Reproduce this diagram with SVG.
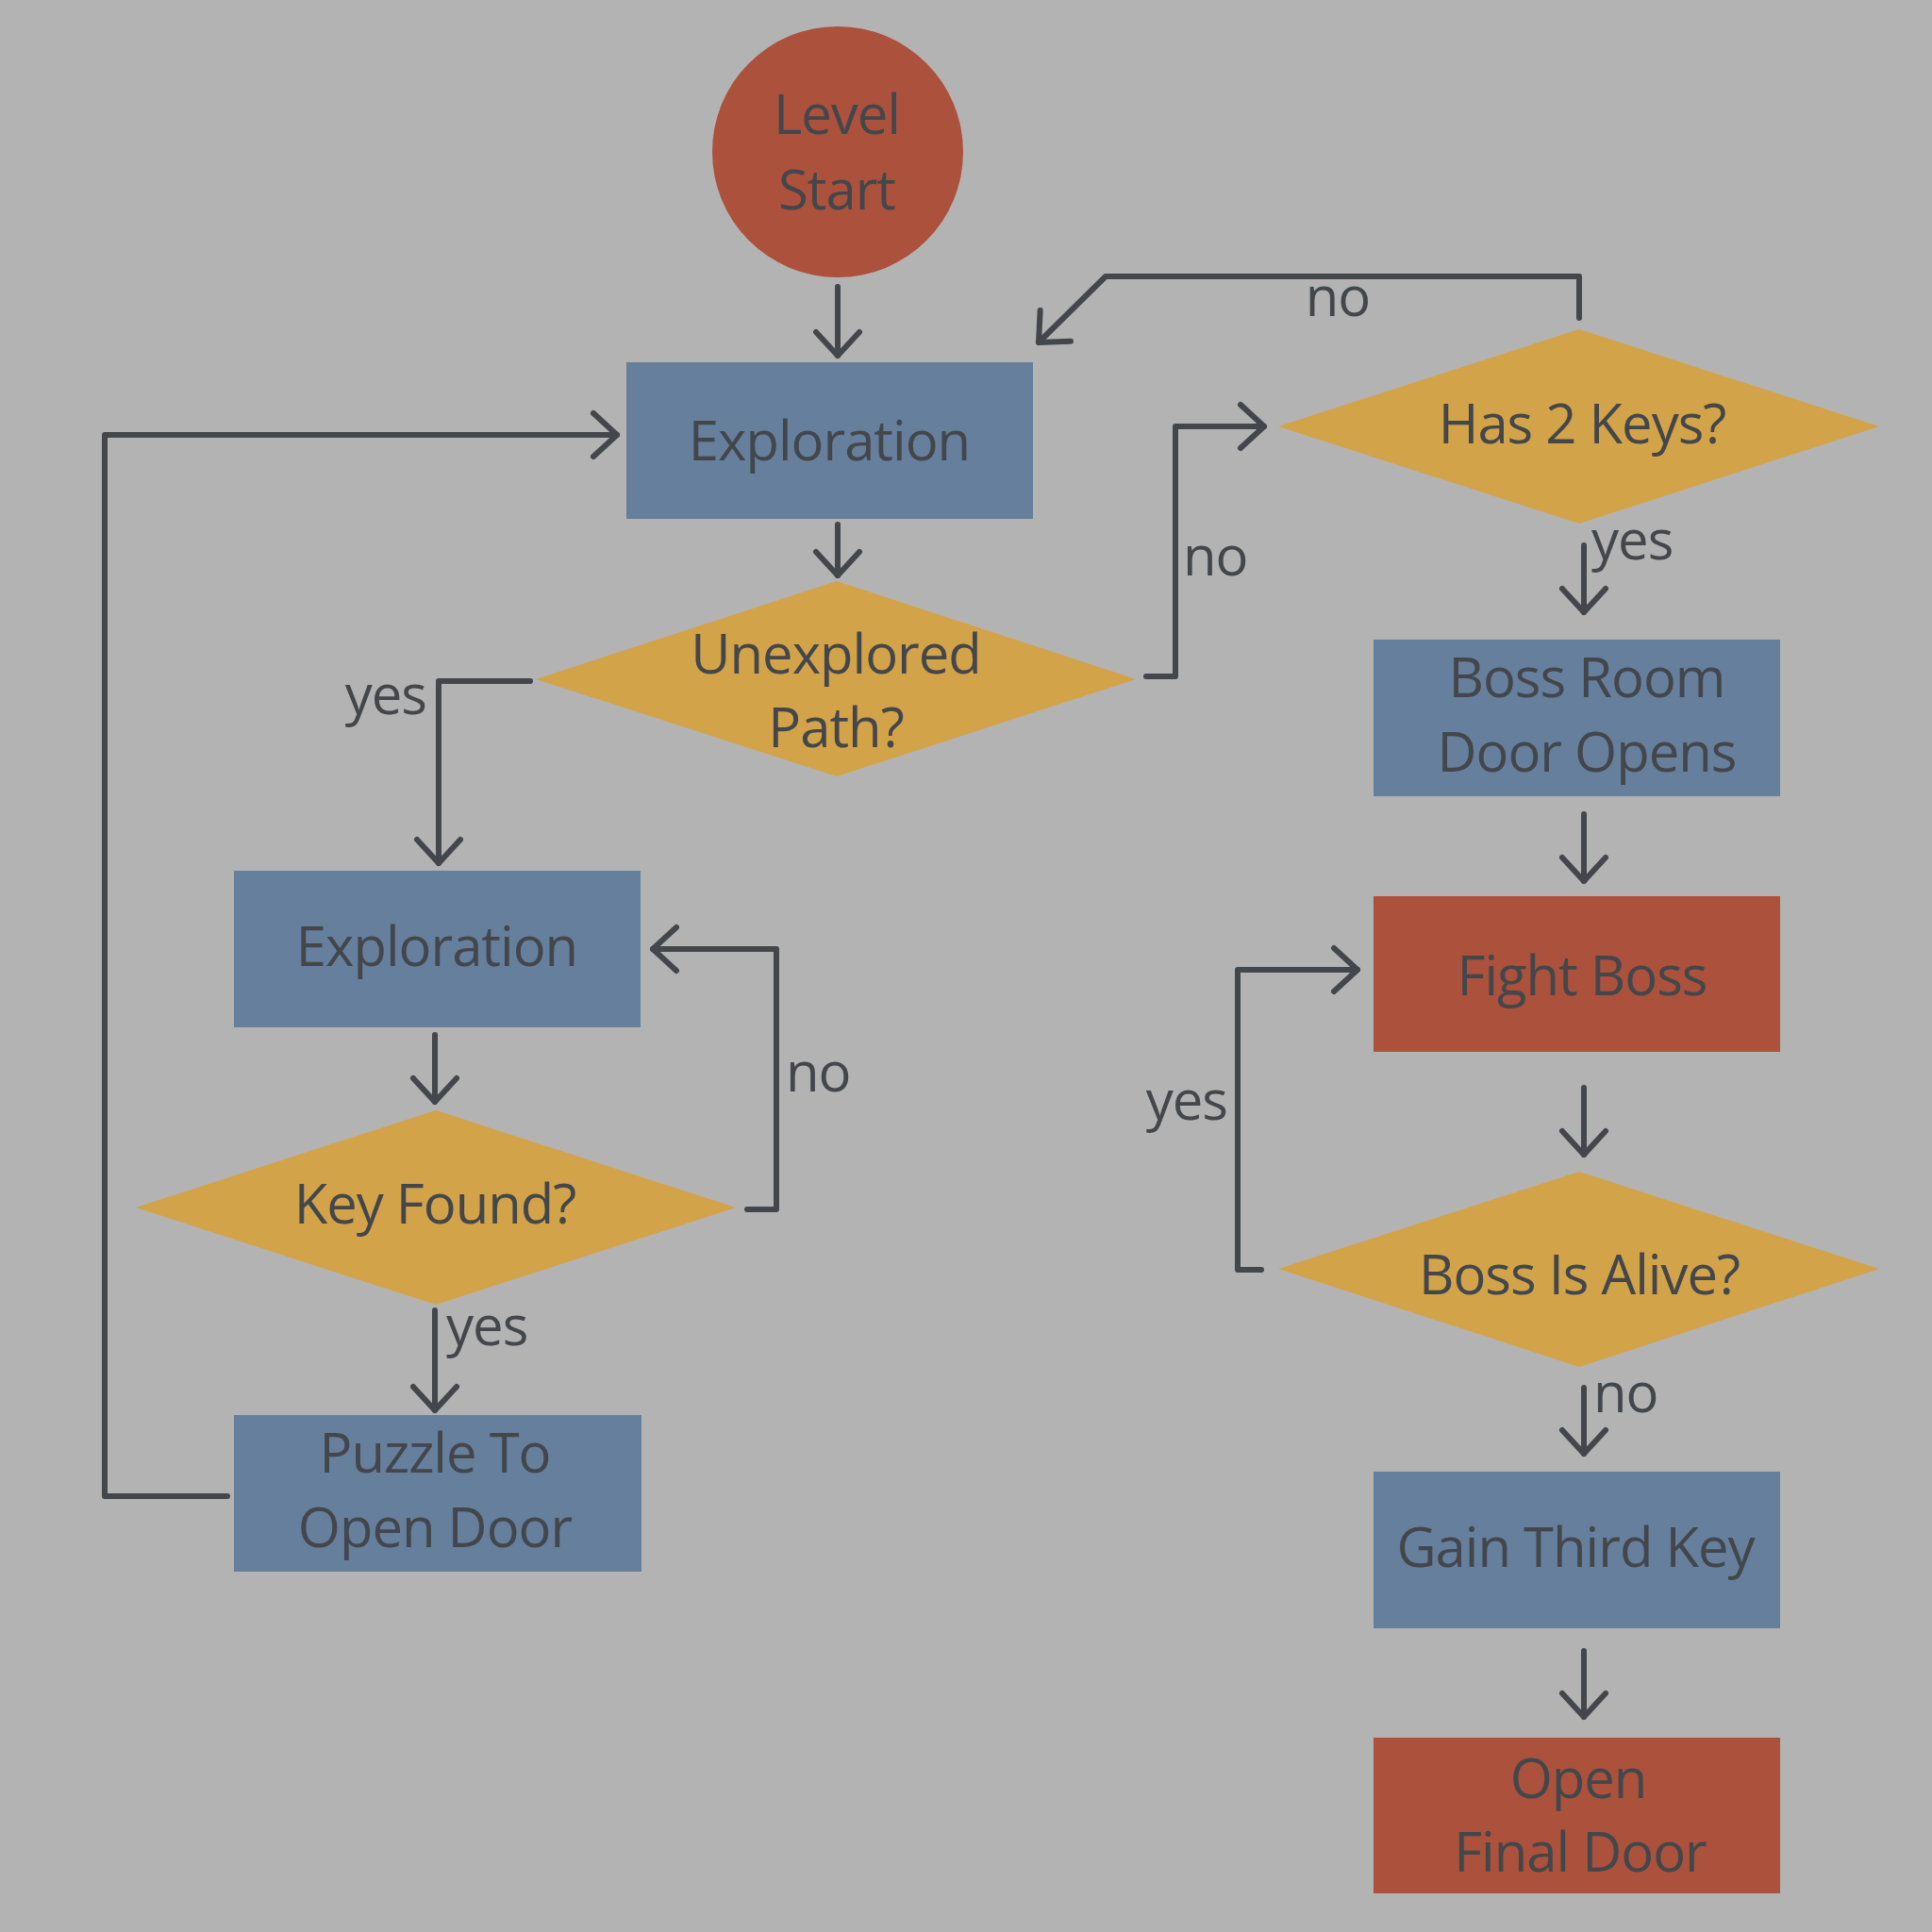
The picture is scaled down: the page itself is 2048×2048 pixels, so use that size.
<svg xmlns="http://www.w3.org/2000/svg" width="2048" height="2048" viewBox="0 0 2048 2048">
<defs>
<style>
.bg{fill:#B3B3B3}
.proc{fill:#657F9D}
.term{fill:#AB513C}
.dec{fill:#D3A349}
.t{font-family:"Open Sans","Noto Sans","DejaVu Sans",sans-serif;font-size:58px;fill:#43474B;text-anchor:middle;letter-spacing:-1px}
.lbl{font-family:"Open Sans","Noto Sans","DejaVu Sans",sans-serif;font-size:58px;fill:#43474B;letter-spacing:-1px}
.c{fill:none;stroke:#43474B;stroke-width:6;stroke-linejoin:round;stroke-linecap:round;marker-end:url(#ah)}
</style>
<marker id="ah" markerUnits="userSpaceOnUse" markerWidth="60" markerHeight="60" viewBox="0 0 60 60" refX="30" refY="30" orient="auto" overflow="visible">
<path d="M5,7 L30,30 L5,53" fill="none" stroke="#43474B" stroke-width="6" stroke-linecap="round" stroke-linejoin="round"/>
</marker>
</defs>
<rect class="bg" x="0" y="0" width="2048" height="2048"/>

<g id="connectors">
<path class="c" d="M888,304 V377"/>
<path class="c" d="M888,556 V610"/>
<path class="c" d="M562,722 H465 V915"/>
<path class="c" d="M1215,717 H1246 V452 H1340"/>
<path class="c" d="M1674,337 V293 H1172 L1101,363"/>
<path class="c" d="M461,1097 V1168"/>
<path class="c" d="M792,1282 H823 V1006 H692"/>
<path class="c" d="M461,1389 V1495"/>
<path class="c" d="M241,1586 H111 V461 H654"/>
<path class="c" d="M1679,578 V649"/>
<path class="c" d="M1679,863 V934"/>
<path class="c" d="M1679,1153 V1224"/>
<path class="c" d="M1337,1346 H1312 V1028 H1439"/>
<path class="c" d="M1679,1471 V1541"/>
<path class="c" d="M1679,1750 V1820"/>
<text class="lbl" x="452" y="757" text-anchor="end">yes</text>
<text class="lbl" x="1254" y="610">no</text>
<text class="lbl" x="1418" y="335" text-anchor="middle">no</text>
<text class="lbl" x="833" y="1157">no</text>
<text class="lbl" x="473" y="1426">yes</text>
<text class="lbl" x="1687" y="593">yes</text>
<text class="lbl" x="1301" y="1187" text-anchor="end">yes</text>
<text class="lbl" x="1689" y="1497">no</text>
</g>

<g id="level-start">
<circle class="term" cx="888" cy="161" r="133"/>
<text class="t" x="887" y="142">Level</text>
<text class="t" x="887" y="222">Start</text>
</g>

<g id="exploration-1">
<rect class="proc" x="664" y="384" width="431" height="166"/>
<text class="t" x="879" y="488">Exploration</text>
</g>

<g id="unexplored-path">
<polygon class="dec" points="568,720 887,616 1204,720 887,823"/>
<text class="t" x="886" y="714">Unexplored</text>
<text class="t" x="886" y="792">Path?</text>
</g>

<g id="exploration-2">
<rect class="proc" x="248" y="923" width="431" height="166"/>
<text class="t" x="463" y="1024">Exploration</text>
</g>

<g id="key-found">
<polygon class="dec" points="144,1280 462,1177 780,1280 462,1383"/>
<text class="t" x="461" y="1297">Key Found?</text>
</g>

<g id="puzzle">
<rect class="proc" x="248" y="1500" width="432" height="166"/>
<text class="t" x="461" y="1561">Puzzle To</text>
<text class="t" x="461" y="1640">Open Door</text>
</g>

<g id="has-2-keys">
<polygon class="dec" points="1355,452 1674,349 1992,452 1674,555"/>
<text class="t" x="1677" y="470">Has 2 Keys?</text>
</g>

<g id="boss-room">
<rect class="proc" x="1456" y="678" width="431" height="166"/>
<text class="t" x="1682" y="739">Boss Room</text>
<text class="t" x="1682" y="818">Door Opens</text>
</g>

<g id="fight-boss">
<rect class="term" x="1456" y="950" width="431" height="165"/>
<text class="t" x="1677" y="1055">Fight Boss</text>
</g>

<g id="boss-alive">
<polygon class="dec" points="1355,1345 1674,1242 1992,1345 1674,1449"/>
<text class="t" x="1674" y="1372">Boss Is Alive?</text>
</g>

<g id="gain-third-key">
<rect class="proc" x="1456" y="1560" width="431" height="166"/>
<text class="t" x="1670" y="1661">Gain Third Key</text>
</g>

<g id="open-final-door">
<rect class="term" x="1456" y="1842" width="431" height="165"/>
<text class="t" x="1673" y="1906">Open</text>
<text class="t" x="1675" y="1984">Final Door</text>
</g>
</svg>
